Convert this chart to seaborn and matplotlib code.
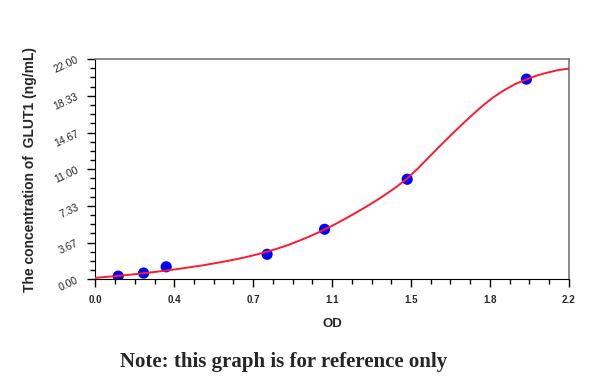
import numpy as np
import pandas as pd
import matplotlib
matplotlib.use("Agg")
import matplotlib.pyplot as plt
import seaborn as sns

# Standards (OD vs concentration)
od_points = [0.106, 0.224, 0.329, 0.798, 1.065, 1.449, 2.003]
conc_points = [0.312, 0.625, 1.25, 2.5, 5.0, 10.0, 20.0]

# Fitted curve
curve_od = [0.0, 0.1, 0.2, 0.3, 0.4, 0.5, 0.6, 0.65, 0.7, 0.75, 0.8, 0.85, 0.9, 0.95,
            1.0, 1.05, 1.1, 1.15, 1.2, 1.25, 1.3, 1.35, 1.4, 1.45, 1.5, 1.55, 1.6,
            1.65, 1.7, 1.75, 1.8, 1.85, 1.9, 1.95, 2.0, 2.05, 2.1, 2.15, 2.2]
curve_conc = [0.15, 0.33, 0.55, 0.80, 1.08, 1.40, 1.78, 1.99, 2.22, 2.48, 2.77, 3.1, 3.46, 3.88,
              4.33, 4.82, 5.35, 5.92, 6.52, 7.15, 7.8, 8.5, 9.25, 10.1, 11.1, 12.2, 13.3,
              14.35, 15.4, 16.4, 17.35, 18.2, 18.9, 19.5, 19.95, 20.35, 20.65, 20.9, 21.05]

x_labels = ["0.0", "0.4", "0.7", "1.1", "1.5", "1.8", "2.2"]
y_labels = ["0.00", "3.67", "7.33", "11.00", "14.67", "18.33", "22.00"]

sns.set_style("ticks")
plt.rcParams['font.family'] = ['Liberation Sans', 'DejaVu Sans']

fig = plt.figure(figsize=(6, 3.79), dpi=100)
ax = fig.add_axes([0.159, 0.263, 0.789, 0.581])

curve = pd.DataFrame({"od": curve_od, "conc": curve_conc})
pts = pd.DataFrame({"od": od_points, "conc": conc_points})

sns.scatterplot(data=pts, x="od", y="conc", color="#0000ff", s=65, edgecolor="none",
                ax=ax, zorder=3)
sns.lineplot(data=curve, x="od", y="conc", color="#ff1a2e", linewidth=1.4, ax=ax, zorder=4)

ax.set_xlim(0, 2.2)
ax.set_ylim(0, 22)
# 6 major divisions, 4 minor steps each
ax.set_xticks(np.linspace(0, 2.2, 7))
ax.set_yticks(np.linspace(0, 22, 7))
ax.set_xticks([v for i, v in enumerate(np.linspace(0, 2.2, 25)) if i % 4], minor=True)
ax.set_yticks([v for i, v in enumerate(np.linspace(0, 22, 25)) if i % 4], minor=True)
ax.set_xticklabels(x_labels, fontsize=7, fontweight="bold")
ax.set_yticklabels(y_labels, fontsize=7.5, rotation=25)
ax.tick_params(which="both", bottom=True, left=True, top=False, right=False)
ax.tick_params(which="major", direction="out", length=6, width=1.0, pad=5, color="black")
ax.tick_params(which="minor", direction="out", length=3.5, width=1.0, color="black")
for s in ["top", "right"]:
    ax.spines[s].set_visible(True)
    ax.spines[s].set_color("#777777")
    ax.spines[s].set_linewidth(1.2)
for s in ["left", "bottom"]:
    ax.spines[s].set_color("black")
    ax.spines[s].set_linewidth(0.8)

ax.set_xlabel("OD", fontsize=9.5, fontweight="bold", labelpad=10)
ax.set_ylabel("The concentration of  GLUT1 (ng/mL)", fontsize=10, fontweight="bold", labelpad=11)

fig.text(0.473, 0.045, "Note: this graph is for reference only", ha="center", va="center",
         fontsize=15, fontweight="bold", family=["Liberation Serif", "DejaVu Serif"])

fig.savefig("out.png", dpi=100)
